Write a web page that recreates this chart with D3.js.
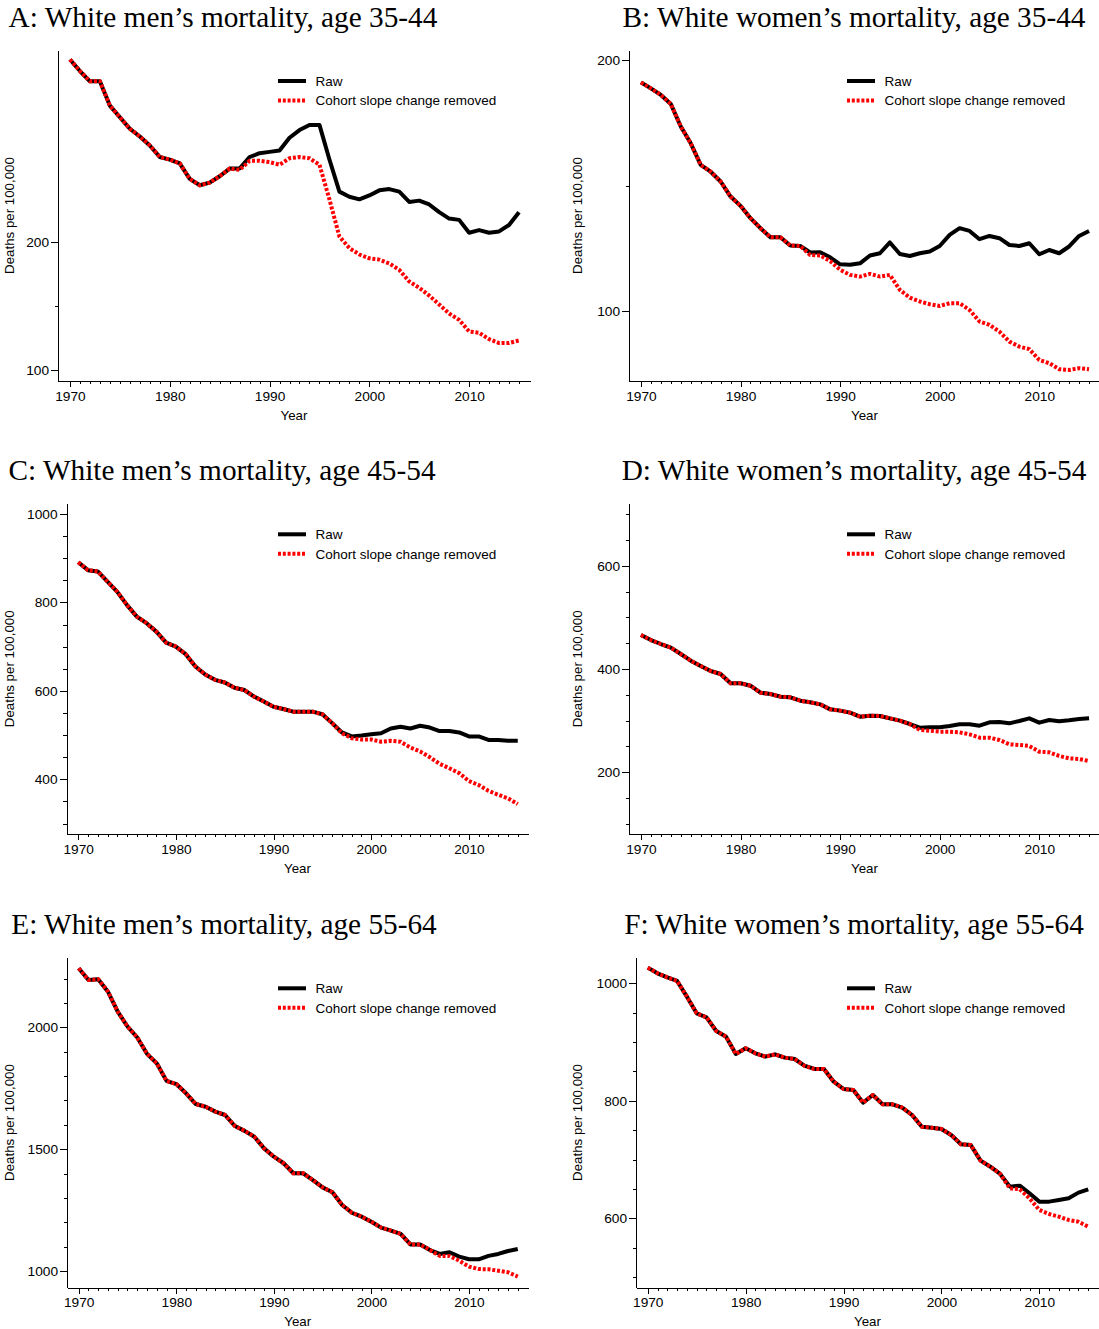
<!DOCTYPE html>
<html>
<head>
<meta charset="utf-8">
<script src="https://cdn.jsdelivr.net/npm/d3@7"></script>
<style>
  body { margin: 0; background: #fff; }
  svg { display: block; }
  .title { font-family: "Liberation Serif", "Times New Roman", serif; font-size: 29.3px; fill: #000; }
  .axis text, .lab, .leg text { font-family: "Liberation Sans", Arial, sans-serif; fill: #000; }
  .axis text { font-size: 13.7px; }
  .lab { font-size: 13.3px; }
  .leg text { font-size: 13.5px; }
  .axis path, .axis line { stroke: #000; stroke-width: 1; shape-rendering: crispEdges; }
</style>
</head>
<body>
<svg id="chart" width="1099" height="1329"></svg>
<script>
// Years covered by every series
const years = [1970,1971,1972,1973,1974,1975,1976,1977,1978,1979,
               1980,1981,1982,1983,1984,1985,1986,1987,1988,1989,
               1990,1991,1992,1993,1994,1995,1996,1997,1998,1999,
               2000,2001,2002,2003,2004,2005,2006,2007,2008,2009,
               2010,2011,2012,2013,2014,2015];

// Deaths per 100,000 — raw rates and rates with the cohort slope change removed
const rawMen3544 = [342,333,325,325,306,297,288,282,275,266,
                    264,261,249,244,246,251,257,257,266,269,
                    270,271,281,287,291,291,264,239,235,233,
                    236,240,241,239,231,232,229,223,218,217,
                    207,209,207,208,213,223];
const adjMen3544 = [342,333,325,325,306,297,288,282,275,266,
                    264,261,249,244,246,251,257,256,263,263,
                    262,260,265,266,265,260,233,204,195,190,
                    187,186,183,178,169,164,158,151,144,139,
                    130,129,124,121,121,123];

const rawWomen3544 = [191.2,188.8,186.2,182.6,173.6,166.9,158.3,155.6,151.7,145.7,
                      142.0,137.1,133.1,129.5,129.5,126.2,126.0,123.4,123.5,121.5,
                      118.7,118.5,119.1,122.2,123.1,127.4,122.8,122.0,123.1,123.8,
                      126.0,130.4,133.1,132.0,128.7,130.0,129.1,126.4,126.0,127.1,
                      122.7,124.4,123.1,125.8,130.0,132.0];
const adjWomen3544 = [191.2,188.8,186.2,182.6,173.6,166.9,158.3,155.6,151.7,145.7,
                      142.0,137.1,133.1,129.5,129.5,126.2,126.0,122.4,122.2,120.0,
                      116.5,114.5,113.8,114.9,113.8,114.5,108.5,105.4,103.9,102.8,
                      102.1,103.2,103.2,100.5,95.9,94.6,91.9,87.9,85.9,84.9,
                      80.6,79.3,76.9,76.6,77.3,76.9];

const rawMen4554 = [891,873,870,847,824,794,768,753,734,709,
                    700,683,655,637,625,619,607,602,587,576,
                    564,559,553,553,553,547,527,506,497,499,
                    502,504,515,519,515,521,517,509,509,506,
                    497,497,489,489,487,487];
const adjMen4554 = [891,873,870,847,824,794,768,753,734,709,
                    700,683,655,637,625,619,607,602,587,576,
                    564,559,553,553,553,547,527,504,493,490,
                    490,485,487,485,472,463,450,435,425,414,
                    396,387,374,365,357,344];

const rawWomen4554 = [465.8,456.1,448.4,441.3,429.0,416.1,405.8,396.1,390.3,372.3,
                      372.3,367.7,354.2,351.6,346.5,345.2,338.7,335.5,331.6,321.9,
                      319.4,315.5,307.7,309.7,309.0,304.5,300.0,293.5,286.5,287.1,
                      287.1,289.7,292.9,292.9,290.3,296.8,297.4,294.8,299.4,304.5,
                      296.1,301.3,298.7,300.6,303.2,304.5];
const adjWomen4554 = [465.8,456.1,448.4,441.3,429.0,416.1,405.8,396.1,390.3,372.3,
                      372.3,367.7,354.2,351.6,346.5,345.2,338.7,335.5,331.6,321.9,
                      319.4,315.5,307.7,309.7,309.0,304.5,300.0,293.5,281.9,280.6,
                      278.7,278.7,277.4,273.5,267.1,267.1,262.6,254.2,252.9,251.0,
                      240.0,238.7,231.6,227.1,225.8,221.9];

const rawMen5564 = [2242,2194,2197,2146,2064,2003,1958,1891,1852,1780,
                    1767,1729,1685,1674,1654,1640,1595,1575,1551,1503,
                    1469,1442,1401,1401,1373,1343,1323,1271,1239,1223,
                    1202,1178,1166,1152,1109,1109,1086,1070,1077,1059,
                    1048,1048,1062,1070,1082,1090];
const adjMen5564 = [2242,2194,2197,2146,2064,2003,1958,1891,1852,1780,
                    1767,1729,1685,1674,1654,1640,1595,1575,1551,1503,
                    1469,1442,1401,1401,1373,1343,1323,1271,1239,1223,
                    1202,1178,1166,1152,1109,1109,1086,1062,1062,1042,
                    1018,1008,1007,1001,995,977];

const rawWomen5564 = [1026.7,1017.0,1010.2,1004.0,977.3,948.9,942.1,918.9,909.2,879.7,
                      889.4,880.9,875.2,879.1,873.5,871.2,859.9,854.2,854.2,832.6,
                      820.1,818.4,796.9,809.9,794.0,794.0,788.4,775.9,756.0,754.3,
                      752.1,741.8,726.0,724.8,698.2,687.9,675.5,653.9,655.6,642.6,
                      628.4,628.4,631.2,634.0,643.7,649.4];
const adjWomen5564 = [1026.7,1017.0,1010.2,1004.0,977.3,948.9,942.1,918.9,909.2,879.7,
                      889.4,880.9,875.2,879.1,873.5,871.2,859.9,854.2,854.2,832.6,
                      820.1,818.4,796.9,809.9,794.0,794.0,788.4,775.9,756.0,754.3,
                      752.1,741.8,726.0,724.8,698.2,687.9,675.5,651.0,649.4,634.0,
                      614.2,607.4,602.8,597.2,594.3,585.8];

// Axis labels and ticks
const yearTicks = [1970, 1980, 1990, 2000, 2010];
const seriesNames = ["Raw", "Cohort slope change removed"];
const yTitle = "Deaths per 100,000";
const xTitle = "Year";

// Panel set-up: title, data, value range of the y axis, tick values and frame
const panels = [
  { title: "A: White men’s mortality, age 35-44", raw: rawMen3544, adj: adjMen3544,
    yDom: [91.4, 349.4], major: [100, 200], minor: [150],
    left: 58, right: 530, top: 50, bottom: 381, titleX: 223, yTitleX: 9, legX: 278 },
  { title: "B: White women’s mortality, age 35-44", raw: rawWomen3544, adj: adjWomen3544,
    yDom: [72.2, 204.1], major: [100, 200], minor: [150],
    left: 629, right: 1100, top: 50, bottom: 381, titleX: 854, yTitleX: 577, legX: 847 },
  { title: "C: White men’s mortality, age 45-54", raw: rawMen4554, adj: adjMen4554,
    yDom: [275.6, 1024.2], major: [400, 600, 800, 1000],
    minor: [300, 350, 450, 500, 550, 650, 700, 750, 850, 900, 950],
    left: 66.5, right: 528.5, top: 503.3, bottom: 834.3, titleX: 222, yTitleX: 9, legX: 278 },
  { title: "D: White women’s mortality, age 45-54", raw: rawWomen4554, adj: adjWomen4554,
    yDom: [80, 720.8], major: [200, 400, 600],
    minor: [100, 150, 250, 300, 350, 450, 500, 550, 650, 700],
    left: 629, right: 1100, top: 503.3, bottom: 834.3, titleX: 854, yTitleX: 577, legX: 847 },
  { title: "E: White men’s mortality, age 55-64", raw: rawMen5564, adj: adjMen5564,
    yDom: [931.5, 2287], major: [1000, 1500, 2000],
    minor: [1100, 1200, 1300, 1400, 1600, 1700, 1800, 1900, 2100, 2200],
    left: 67, right: 528.5, top: 957.3, bottom: 1287.7, titleX: 224, yTitleX: 9, legX: 278 },
  { title: "F: White women’s mortality, age 55-64", raw: rawWomen5564, adj: adjWomen5564,
    yDom: [481.9, 1044.3], major: [600, 800, 1000],
    minor: [500, 550, 650, 700, 750, 850, 900, 950],
    left: 636, right: 1099, top: 957.3, bottom: 1287.7, titleX: 854, yTitleX: 577, legX: 847 }
];

const svg = d3.select("#chart");
const xDom = [1968.8, 2016.1];

panels.forEach(p => {
  const g = svg.append("g");
  const x = d3.scaleLinear().domain(xDom).range([p.left, p.right]);
  const y = d3.scaleLinear().domain(p.yDom).range([p.bottom, p.top]);

  // Title
  g.append("text").attr("class", "title")
    .attr("x", p.titleX).attr("y", p.top - 23.3)
    .attr("text-anchor", "middle").text(p.title);

  // Y axis: labelled ticks plus unlabelled minor ticks
  g.append("g").attr("class", "axis")
    .attr("transform", `translate(${p.left},0)`)
    .call(d3.axisLeft(y).tickValues(p.major).tickSize(7).tickSizeOuter(0).tickPadding(2)
      .tickFormat(d3.format("d")));
  g.append("g").attr("class", "axis")
    .attr("transform", `translate(${p.left},0)`)
    .call(d3.axisLeft(y).tickValues(p.minor).tickSize(3.5).tickSizeOuter(0).tickFormat(""))
    .select(".domain").remove();

  // X axis
  g.append("g").attr("class", "axis")
    .attr("transform", `translate(0,${p.bottom})`)
    .call(d3.axisBottom(x).tickValues(yearTicks).tickSize(6).tickSizeOuter(0).tickPadding(4)
      .tickFormat(d3.format("d")));
  g.append("g").attr("class", "axis")
    .attr("transform", `translate(0,${p.bottom})`)
    .call(d3.axisBottom(x).tickValues(years.filter(v => v % 10 !== 0)).tickSize(3).tickSizeOuter(0).tickFormat(""))
    .select(".domain").remove();

  // Axis titles
  g.append("text").attr("class", "lab")
    .attr("x", (p.left + p.right) / 2).attr("y", p.bottom + 38.5)
    .attr("text-anchor", "middle").text(xTitle);
  g.append("text").attr("class", "lab")
    .attr("transform", `translate(${p.yTitleX + 4.6},${(p.top + p.bottom) / 2}) rotate(-90)`)
    .attr("text-anchor", "middle").text(yTitle);

  // Series lines: raw solid black, adjusted dotted red on top
  const line = d3.line().x((d, i) => x(years[i])).y(d => y(d));
  g.append("path").datum(p.raw).attr("d", line)
    .attr("fill", "none").attr("stroke", "#000").attr("stroke-width", 4)
    .attr("stroke-linejoin", "round");
  g.append("path").datum(p.adj).attr("d", line)
    .attr("fill", "none").attr("stroke", "#ff0000").attr("stroke-width", 4)
    .attr("stroke-dasharray", "3 1.8").attr("stroke-linejoin", "round");

  // Legend
  const leg = g.append("g").attr("class", "leg");
  const legY = [p.top + 31, p.top + 50.5];
  leg.append("line").attr("x1", p.legX).attr("x2", p.legX + 28)
    .attr("y1", legY[0]).attr("y2", legY[0])
    .attr("stroke", "#000").attr("stroke-width", 4);
  leg.append("line").attr("x1", p.legX).attr("x2", p.legX + 28)
    .attr("y1", legY[1]).attr("y2", legY[1])
    .attr("stroke", "#ff0000").attr("stroke-width", 4).attr("stroke-dasharray", "3 1.8");
  seriesNames.forEach((n, i) => {
    leg.append("text").attr("x", p.legX + 37.5).attr("y", legY[i])
      .attr("dy", "0.35em").text(n);
  });
});
</script>
</body>
</html>
